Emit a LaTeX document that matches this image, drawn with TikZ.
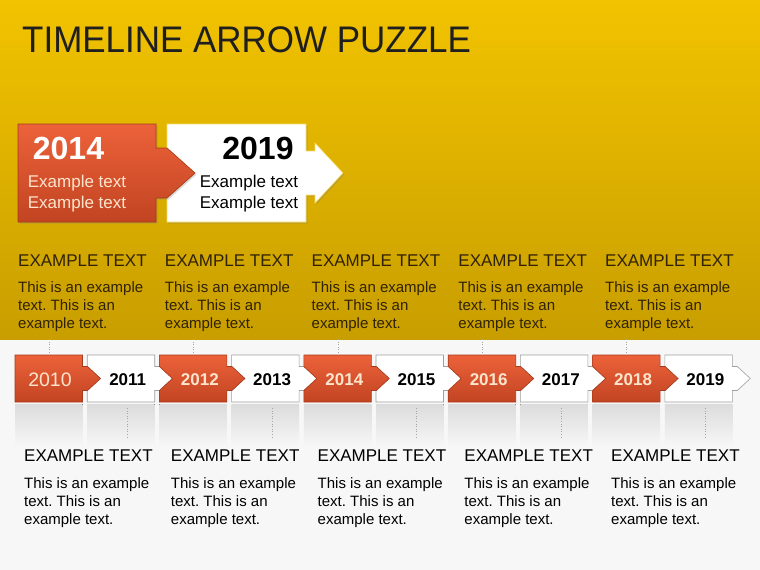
\documentclass[tikz,border=0pt]{standalone}
\usepackage{fontspec}
\setmainfont{Liberation Sans}
\frenchspacing
\usetikzlibrary{positioning,shadows}
\definecolor{ytop}{RGB}{242,195,0}
\definecolor{ybot}{RGB}{200,158,0}
\definecolor{orgtop}{RGB}{236,98,58}
\definecolor{orgbot}{RGB}{194,68,34}
\definecolor{orgline}{RGB}{168,58,28}
\definecolor{peach}{RGB}{253,228,205}
\definecolor{brownink}{RGB}{48,34,4}
\definecolor{pagebg}{RGB}{247,247,247}
\tikzset{tlpiece/.pic={\path[pic actions] (0,0) -- (67.5,0) -- (67.5,11.5) -- (72.5,11.5) -- (85.5,23.5) -- (72.5,35.5) -- (67.5,35.5) -- (67.5,47) -- (0,47) -- (0,35.5) -- (13,23.5) -- (0,11.5) -- cycle;},
  orgpiece/.style={top color=orgtop, bottom color=orgbot, draw=orgline, line width=.6pt},
  whtpiece/.style={fill=white, draw=gray!75, line width=.6pt},
  reflect/.style={top color=gray!28, bottom color=pagebg},
  tick/.style={gray!70, dotted, line width=.6pt},
  yrlabel/.style={inner sep=0pt, font=\fontsize{17}{20}\selectfont\bfseries},
  colhead/.style={anchor=base west, inner sep=0pt, font=\fontsize{17}{20}\selectfont},
  colbody/.style={inner sep=0pt, align=left, font=\fontsize{15}{17.8}\selectfont},
  bigyear/.style={inner sep=0pt, font=\fontsize{32}{36}\selectfont\bfseries},
  bigtxt/.style={inner sep=0pt, align=center, font=\fontsize{17}{21}\selectfont}}
\begin{document}
\begin{tikzpicture}[x=1pt, y=-1pt]
    \useasboundingbox (0,0) rectangle (760,570);
    % background
    \fill[pagebg] (0,0) rectangle (760,570);
    \fill[top color=ytop, bottom color=ybot] (0,0) rectangle (760,339);
    \node[anchor=base west, inner sep=0pt, font=\fontsize{37}{40}\selectfont, xscale=.945, text=black!88] (title) at (22,52) {TIMELINE ARROW PUZZLE};
    % big puzzle
    \path[whtpiece, draw=ytop!60!white, drop shadow={shadow xshift=1.5pt, shadow yshift=-1.5pt, opacity=.3}] (167,124) -- (306,124) -- (306,151) -- (315,151) -- (315,143) -- (343,173) -- (315,203) -- (315,195) -- (306,195) -- (306,222) -- (167,222) -- (167,198) -- (195,173) -- (167,148) -- cycle;
    \path[orgpiece, drop shadow={shadow xshift=1.5pt, shadow yshift=-1.5pt, opacity=.3}] (18,124) -- (156,124) -- (156,148) -- (167,148) -- (195,173) -- (167,198) -- (156,198) -- (156,222) -- (18,222) -- cycle;
    \node[bigyear, text=white] (big14) at (68.5,148) {2014};
    \node[bigyear] (big19) at (258,148) {2019};
    \node[bigtxt, text=peach] (txt14) at (77,193.5) {Example text\\Example text};
    \node[bigtxt] (txt19) at (249,193.5) {Example text\\Example text};
    % upper columns
    \foreach \j in {0,...,4} {
        \node[colhead, text=brownink] (th\j) at ({18+146.75*\j},266.7) {EXAMPLE TEXT};
        \node[colbody, text=brownink, below=15pt of th\j.south west, anchor=north west] (tb\j) {This is an example\\text. This is an\\example text.};
    }
    % timeline
    \foreach \i in {0,...,9}
        \fill[reflect] ({15+72.2*\i},404) rectangle +(67.5,42);
    \foreach \i in {0,2,...,8}
        \draw[tick] ({49+72.2*\i},339) -- +(0,16);
    \foreach \i in {1,3,...,9}
        \draw[tick] ({55.5+72.2*\i},408) -- +(0,30);
    \foreach \i in {1,3,...,9}
        \pic[whtpiece] at ({15+72.2*\i},355) {tlpiece};
    \foreach \i in {2,4,...,8}
        \pic[orgpiece] at ({15+72.2*\i},355) {tlpiece};
    \path[orgpiece] (15,355) -- (82.5,355) -- (82.5,366.5) -- (87.5,366.5) -- (100.5,378.5) -- (87.5,390.5) -- (82.5,390.5) -- (82.5,402) -- (15,402) -- cycle;
    \node[inner sep=0pt, font=\fontsize{19.5}{22}\selectfont, text=peach] (y2010) at (50,380) {2010};
    \foreach \i/\yr in {1/2011,3/2013,5/2015,7/2017,9/2019}
        \node[yrlabel] (y\yr) at ({15+72.2*\i+40.5},380) {\yr};
    \foreach \i/\yr in {2/2012,4/2014,6/2016,8/2018}
        \node[yrlabel, text=peach] (y\yr) at ({15+72.2*\i+40.5},380) {\yr};
    % lower columns
    \foreach \j in {0,...,4} {
        \node[colhead] (bh\j) at ({24+146.75*\j},461.7) {EXAMPLE TEXT};
        \node[colbody, below=16pt of bh\j.south west, anchor=north west] (bb\j) {This is an example\\text. This is an\\example text.};
    }
\end{tikzpicture}
\end{document}
